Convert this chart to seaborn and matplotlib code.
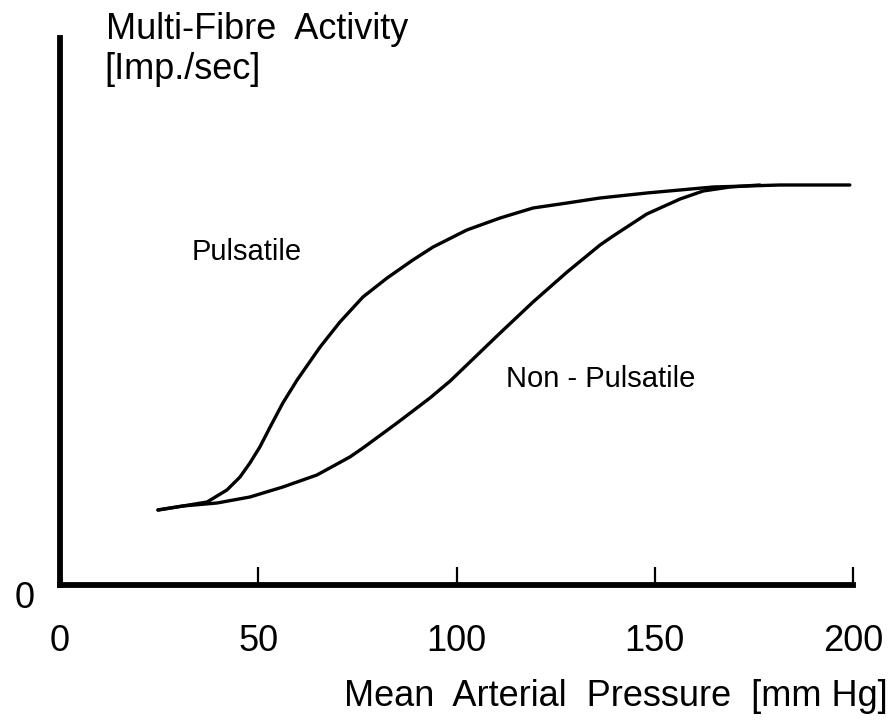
import matplotlib
matplotlib.use("Agg")
import matplotlib.pyplot as plt
import seaborn as sns
import pandas as pd

# --- data (x: mmHg, y: activity, arbitrary units) ---
pulsatile_x = [24.7, 31.0, 37.1, 42.1, 45.4, 47.9, 50.4, 53.0, 56.2, 59.8, 65.6,
               70.6, 76.4, 82.5, 89.0, 94.1, 102.6, 111.0, 119.3, 127.9, 136.2,
               148.0, 164.7, 181.6, 199.2]
pulsatile_y = [15.0, 15.8, 16.6, 19.0, 21.6, 24.4, 27.6, 31.6, 36.4, 41.0, 47.6,
               52.6, 57.6, 61.4, 65.0, 67.6, 71.0, 73.4, 75.4, 76.4, 77.4,
               78.4, 79.6, 80.0, 80.0]
nonpuls_x = [24.7, 31.0, 39.6, 47.9, 56.2, 64.8, 73.1, 76.4, 85.0, 93.3, 98.4,
             102.6, 111.0, 119.3, 127.9, 136.2, 139.5, 148.0, 156.4, 162.2,
             169.0, 176.5]
nonpuls_y = [15.0, 15.8, 16.4, 17.6, 19.6, 22.0, 25.6, 27.4, 32.4, 37.4, 40.8,
             44.0, 50.4, 56.6, 62.6, 68.0, 69.8, 74.2, 77.2, 78.8,
             79.6, 80.0]
x_ticks = [0, 50, 100, 150, 200]
x_ticklabels = ["0", "50", "100", "150", "200"]

df = pd.concat([
    pd.DataFrame({"x": pulsatile_x, "y": pulsatile_y, "curve": "Pulsatile"}),
    pd.DataFrame({"x": nonpuls_x, "y": nonpuls_y, "curve": "Non-Pulsatile"}),
])

sns.set_theme(style="white")
plt.rcParams["font.family"] = ["Liberation Sans", "DejaVu Sans"]
plt.rcParams["text.color"] = "black"
plt.rcParams["xtick.color"] = "black"

fig = plt.figure(figsize=(8.94, 7.24), dpi=100)
ax = fig.add_axes([60 / 894, 1 - 585 / 724, (853 - 60) / 894, (585 - 38) / 724])

sns.lineplot(data=df, x="x", y="y", hue="curve", palette=["black", "black"],
             estimator=None, sort=False, legend=False, linewidth=2.4, ax=ax)
for ln in ax.lines:
    ln.set_solid_joinstyle("round")
    ln.set_solid_capstyle("round")

ax.set_xlim(0, 200)
ax.set_ylim(0, (585 - 38) / 5)
ax.set_xlabel("")
ax.set_ylabel("")
ax.set_xticks(x_ticks)
ax.set_xticklabels(x_ticklabels, fontsize=26, color="black")
ax.set_yticks([])
ax.tick_params(axis="x", direction="in", length=13, width=1.6, pad=28,
               colors="black", bottom=True)
for s in ["top", "right"]:
    ax.spines[s].set_visible(False)
for s in ["left", "bottom"]:
    ax.spines[s].set_visible(True)
    ax.spines[s].set_linewidth(4.2)
    ax.spines[s].set_color("black")
    ax.spines[s].set_capstyle("projecting")
ax.xaxis.get_major_ticks()[0].tick1line.set_visible(False)

fig.text(15 / 894, 1 - 598 / 724, "0", fontsize=26, ha="left", va="center",
         color="black")
ax.text(33.3, 66.6, "Pulsatile", fontsize=21, ha="left", va="center",
        color="black")
ax.text(112.5, 41.2, "Non - Pulsatile", fontsize=21, ha="left", va="center",
        color="black")

fig.text(106 / 894, 1 - 12 / 724, "Multi-Fibre  Activity", fontsize=26,
         ha="left", va="top", color="black")
fig.text(104 / 894, 1 - 52 / 724, "[Imp./sec]", fontsize=26, ha="left",
         va="top", color="black")
fig.text(888 / 894, 1 - 697 / 724, "Mean  Arterial  Pressure  [mm Hg]",
         fontsize=26, ha="right", va="center", color="black")

fig.savefig("out.png", dpi=100, facecolor="white")
